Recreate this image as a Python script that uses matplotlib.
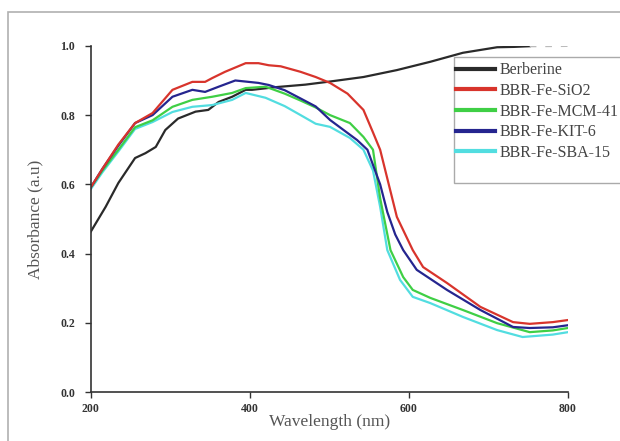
import matplotlib
matplotlib.use("Agg")
import matplotlib.pyplot as plt
from matplotlib.patches import Rectangle
from matplotlib.lines import Line2D

# ---- data ----
berb_x = [200, 219, 235, 256, 269, 282, 294, 310, 332, 348, 361, 378, 395, 403,
          434, 470, 501, 543, 585, 627, 668, 711, 732, 752]
berb_y = [0.462, 0.535, 0.604, 0.676, 0.69, 0.708, 0.757, 0.79, 0.81, 0.815, 0.838, 0.853,
          0.873, 0.873, 0.881, 0.888, 0.897, 0.91, 0.93, 0.954, 0.98, 0.996, 0.997, 0.999]
berb_tail_x = [752, 800]
berb_tail_y = [0.999, 1.0]

sio2_x = [200, 215, 235, 256, 278, 303, 328, 344, 353, 369, 395, 411, 424, 439, 464, 483,
          501, 523, 543, 555, 564, 585, 605, 618, 648, 690, 731, 752, 781, 800]
sio2_y = [0.59, 0.645, 0.715, 0.777, 0.806, 0.873, 0.896, 0.896, 0.907, 0.925, 0.95, 0.95,
          0.944, 0.941, 0.925, 0.91, 0.893, 0.862, 0.815, 0.75, 0.70, 0.506, 0.41, 0.361,
          0.315, 0.246, 0.202, 0.197, 0.202, 0.208]

kit_x = [200, 215, 235, 256, 278, 303, 328, 344, 361, 382, 411, 424, 444, 464, 483, 501, 535,
         548, 564, 573, 583, 593, 610, 648, 690, 731, 752, 781, 800]
kit_y = [0.59, 0.645, 0.712, 0.777, 0.80, 0.853, 0.873, 0.867, 0.882, 0.90, 0.893, 0.887,
         0.872, 0.848, 0.825, 0.786, 0.728, 0.70, 0.60, 0.52, 0.455, 0.41, 0.353, 0.295,
         0.237, 0.188, 0.185, 0.187, 0.193]

mcm_x = [200, 215, 235, 256, 278, 303, 328, 353, 378, 395, 420, 444, 464, 483, 501, 526,
         543, 555, 564, 577, 593, 605, 627, 668, 711, 752, 781, 800]
mcm_y = [0.59, 0.64, 0.70, 0.765, 0.785, 0.824, 0.844, 0.853, 0.864, 0.878, 0.882, 0.862,
         0.842, 0.822, 0.80, 0.777, 0.737, 0.70, 0.56, 0.41, 0.332, 0.295, 0.272, 0.237,
         0.199, 0.173, 0.178, 0.185]

sba_x = [200, 215, 235, 256, 278, 303, 328, 353, 378, 395, 420, 444, 464, 483, 501, 526,
         543, 555, 564, 573, 589, 605, 627, 668, 711, 743, 781, 800]
sba_y = [0.585, 0.635, 0.695, 0.76, 0.78, 0.809, 0.824, 0.829, 0.844, 0.864, 0.85, 0.826,
         0.80, 0.775, 0.766, 0.734, 0.70, 0.64, 0.535, 0.41, 0.324, 0.275, 0.257, 0.217,
         0.179, 0.159, 0.166, 0.173]

labels = ["Berberine", "BBR-Fe-SiO2", "BBR-Fe-MCM-41", "BBR-Fe-KIT-6", "BBR-Fe-SBA-15"]
colors = ["#2a2a2a", "#d8342c", "#3fcf45", "#25258f", "#52dde0"]
xticks = [200, 400, 600, 800]
yticks = [0.0, 0.2, 0.4, 0.6, 0.8, 1.0]

# ---- figure ----
fig = plt.figure(figsize=(6.2, 4.41), dpi=100)
fig.patches.append(Rectangle((0.013, -0.02), 1.2, 0.993, transform=fig.transFigure,
                             fill=False, edgecolor="#b0b0b0", linewidth=1.2))
ax = fig.add_axes([0.146, 0.111, 0.770, 0.785])

lw = 1.6
ax.plot(berb_x, berb_y, color=colors[0], lw=lw)
ax.plot(berb_tail_x, berb_tail_y, color="#bbbbbb", lw=lw, ls=(0, (3, 4)))
ax.plot(sba_x, sba_y, color=colors[4], lw=lw)
ax.plot(mcm_x, mcm_y, color=colors[2], lw=lw)
ax.plot(kit_x, kit_y, color=colors[3], lw=lw)
ax.plot(sio2_x, sio2_y, color=colors[1], lw=lw)

ax.set_xlim(200, 800)
ax.set_ylim(0.0, 1.0)
ax.set_xticks(xticks)
ax.set_yticks(yticks)
ax.set_xticklabels([str(t) for t in xticks], fontfamily="Liberation Serif",
                   fontweight="bold", fontsize=8.5, color="#333333")
ax.set_yticklabels([f"{t:.1f}" for t in yticks], fontfamily="Liberation Serif",
                   fontweight="bold", fontsize=8.5, color="#333333")
for s in ["top", "right"]:
    ax.spines[s].set_visible(False)
for s in ["left", "bottom"]:
    ax.spines[s].set_color("#333333")
    ax.spines[s].set_linewidth(1.2)
ax.tick_params(axis="y", direction="out", length=4, width=1.0, color="#333333", pad=7)
ax.tick_params(axis="x", direction="out", length=4, width=1.0, color="#333333", pad=4)
ax.set_xlabel("Wavelength (nm)", fontfamily="Liberation Serif", fontsize=12.5,
              color="#555555", labelpad=-1)
ax.set_ylabel("Absorbance (a.u)", fontfamily="Liberation Serif", fontsize=12.5,
              color="#555555", labelpad=12)

# legend
fig.patches.append(Rectangle((0.732, 0.585), 0.30, 0.286, transform=fig.transFigure,
                             facecolor="white", edgecolor="#aaaaaa", linewidth=1.0, zorder=5))
handles = [Line2D([0], [0], color=c, lw=3) for c in colors]
leg = fig.legend(handles, labels, loc="upper left", bbox_to_anchor=(0.718, 0.884),
                 frameon=False, prop={"family": "Liberation Serif", "size": 11.5},
                 handlelength=2.4, handletextpad=0.3, labelspacing=0.29, borderpad=0.2)
leg.set_zorder(6)
for t in leg.get_texts():
    t.set_color("#444444")

fig.savefig("out.png", dpi=100)
